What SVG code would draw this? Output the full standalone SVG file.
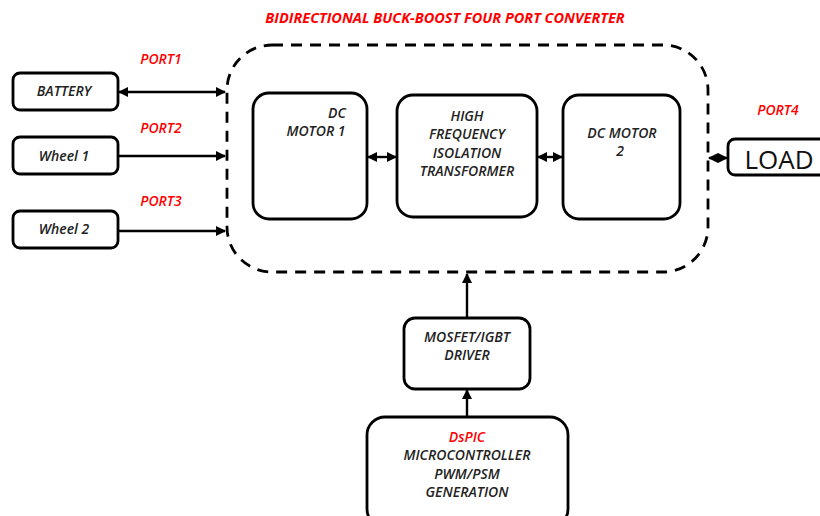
<svg xmlns="http://www.w3.org/2000/svg" width="820" height="516" viewBox="0 0 820 516">
<style>
.box{fill:#fff;stroke:#000;stroke-width:2.8}
.t{font-family:"Open Sans","Liberation Sans",sans-serif;font-style:italic;font-weight:600;font-size:14px;fill:#222;text-anchor:middle}
.r{fill:#f00}
.ttl{font-size:14.5px;font-weight:700}
.ln{stroke:#000;stroke-width:2.4;fill:none}
</style>
<defs>
<marker id="ah" viewBox="0 0 10 10" refX="9" refY="5" markerWidth="4.2" markerHeight="4.2" orient="auto-start-reverse"><path d="M0,0 L10,5 L0,10 z" fill="#000"/></marker>
</defs>
<rect width="820" height="516" fill="#fff"/>
<text class="t r ttl" x="445" y="23">BIDIRECTIONAL BUCK-BOOST FOUR PORT CONVERTER</text>
<g id="converter"><rect x="227" y="45" width="481" height="227" rx="45" fill="none" stroke="#000" stroke-width="2.8" stroke-dasharray="11,8"/></g>
<g id="connectors">
<line class="ln" x1="119" y1="92" x2="225" y2="92" marker-start="url(#ah)" marker-end="url(#ah)"/>
<line class="ln" x1="119" y1="156" x2="225" y2="156" marker-end="url(#ah)"/>
<line class="ln" x1="119" y1="231" x2="225" y2="231" marker-end="url(#ah)"/>
<line class="ln" x1="368" y1="157" x2="396" y2="157" marker-start="url(#ah)" marker-end="url(#ah)"/>
<line class="ln" x1="538" y1="157" x2="562" y2="157" marker-start="url(#ah)" marker-end="url(#ah)"/>
<line class="ln" x1="709" y1="158" x2="727" y2="158" marker-start="url(#ah)" marker-end="url(#ah)"/>
<line class="ln" x1="467" y1="318" x2="467" y2="274" marker-end="url(#ah)"/>
<line class="ln" x1="467" y1="417" x2="467" y2="390" marker-end="url(#ah)"/>
</g>
<g id="port-labels">
<text class="t r" x="161" y="64">PORT1</text>
<text class="t r" x="161" y="133">PORT2</text>
<text class="t r" x="161" y="206">PORT3</text>
<text class="t r" x="778" y="115">PORT4</text>
</g>
<g id="battery"><rect class="box" x="13" y="73" width="105" height="37" rx="7"/><text class="t" x="64" y="96">BATTERY</text></g>
<g id="wheel1"><rect class="box" x="13" y="137" width="105" height="37" rx="7"/><text class="t" x="64" y="161">Wheel 1</text></g>
<g id="wheel2"><rect class="box" x="13" y="211" width="105" height="37" rx="7"/><text class="t" x="64" y="234">Wheel 2</text></g>
<g id="dcmotor1"><rect class="box" x="253" y="93" width="114" height="126" rx="16"/><text class="t" x="337" y="118">DC</text><text class="t" x="316" y="136">MOTOR 1</text></g>
<g id="transformer"><rect class="box" x="397" y="95" width="140" height="122" rx="16"/><text class="t" x="467" y="121">HIGH</text><text class="t" x="467" y="139">FREQUENCY</text><text class="t" x="467" y="158">ISOLATION</text><text class="t" x="467" y="176">TRANSFORMER</text></g>
<g id="dcmotor2"><rect class="box" x="563" y="95" width="117" height="124" rx="16"/><text class="t" x="622" y="138">DC MOTOR</text><text class="t" x="620" y="156">2</text></g>
<g id="load"><rect class="box" x="728" y="139" width="104" height="36" rx="7"/><text x="779" y="169" font-family="Open Sans,Liberation Sans,sans-serif" font-size="26" fill="#111" text-anchor="middle">LOAD</text></g>
<g id="driver"><rect class="box" x="404" y="318" width="126" height="71" rx="11"/><text class="t" x="467" y="342">MOSFET/IGBT</text><text class="t" x="467" y="360">DRIVER</text></g>
<g id="dspic"><rect class="box" x="367" y="417" width="201" height="110" rx="18"/><text class="t r" x="467" y="442">DsPIC</text><text class="t" x="467" y="460">MICROCONTROLLER</text><text class="t" x="467" y="479">PWM/PSM</text><text class="t" x="467" y="497">GENERATION</text></g>
</svg>
